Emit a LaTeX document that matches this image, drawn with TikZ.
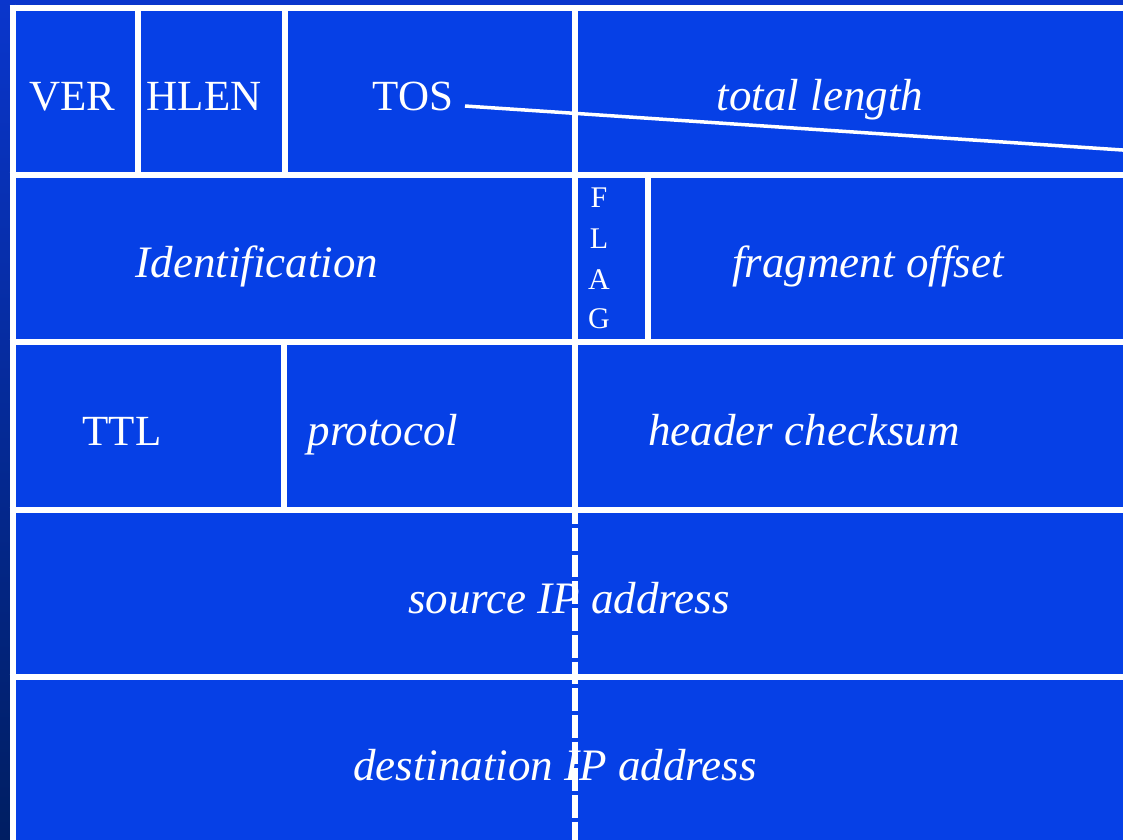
\documentclass[tikz,border=0pt]{standalone}
\usepackage{fontspec}
\setmainfont{Liberation Serif}
\definecolor{bgtop}{HTML}{0A36CC}
\definecolor{bgbot}{HTML}{001E62}
\definecolor{cellblue}{HTML}{0640E6}
\begin{document}
\begin{tikzpicture}[x=1pt,y=-1pt,
  grid/.style={white, line width=6pt},
  dashgrid/.style={white, line width=6pt, dash pattern=on 22.7pt off 4pt, dash phase=8.7pt},
  lbl/.style={text=white, anchor=base, inner sep=0pt, font=\fontsize{43}{50}\selectfont},
  ilbl/.style={text=white, anchor=base, inner sep=0pt, font=\fontsize{45}{52}\selectfont\itshape},
  flagl/.style={text=white, anchor=base, inner sep=0pt, font=\fontsize{30}{36}\selectfont}]
\useasboundingbox (0,0) rectangle (1123,839);

% background and header area
\shade[top color=bgtop, bottom color=bgbot] (0,0) rectangle (1123,839);
\fill[cellblue] (12.5,7.5) rectangle (1130,850);

% field labels
\node[lbl]  (ver)   at (72,110)  {VER};
\node[lbl]  (hlen)  at (204,110) {HLEN};
\node[lbl]  (tos)   at (413,110) {TOS};
\node[ilbl] (tlen)  at (820,110) {total length};
\node[ilbl] (ident) at (257,277.5) {Identification};
\node[ilbl] (frag)  at (868,277.5) {fragment offset};
\node[flagl] (fF) at (599,207) {F};
\node[flagl] (fL) at (599,248) {L};
\node[flagl] (fA) at (599,289) {A};
\node[flagl] (fG) at (599,328) {G};
\node[lbl]  (ttl)   at (122,445) {TTL};
\node[ilbl] (proto) at (383,445) {protocol};
\node[ilbl] (csum)  at (804,445) {header checksum};
\node[ilbl] (src)   at (569,613) {source IP address};
\node[ilbl] (dst)   at (555,780) {destination IP address};

% row separators
\foreach \y in {7.5,175,342,510,677}
  \draw[grid] (9.5,\y) -- (1130,\y);
\draw[grid] (12.5,4.5) -- (12.5,850);

% field boundaries
\draw[grid] (138,7.5) -- (138,175);
\draw[grid] (285,7.5) -- (285,175);
\draw[grid] (575,7.5) -- (575,175);
\draw[grid] (575,175) -- (575,342);
\draw[grid] (648,175) -- (648,342);
\draw[grid] (284,342) -- (284,510);
\draw[grid] (575,342) -- (575,510);
\draw[dashgrid] (575,510) -- (575,850);

% slanted stroke from TOS
\coordinate (tosend) at (465,106);
\coordinate (rightend) at (1130,150.5);
\draw[white, line width=3.5pt] (tosend) -- (rightend);
\end{tikzpicture}
\end{document}
